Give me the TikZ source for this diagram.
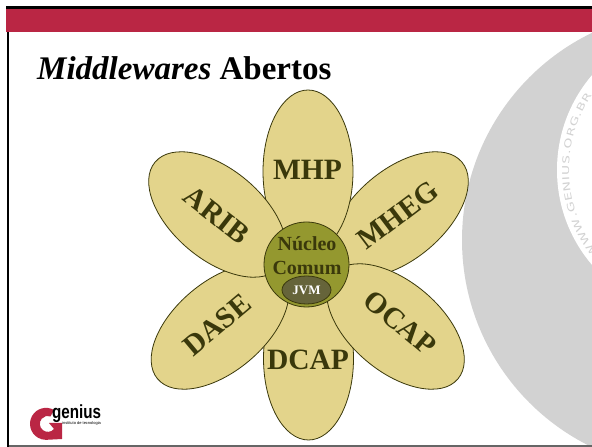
\documentclass[tikz,border=0pt]{standalone}
\usepackage{xcolor}
\usepackage{fontspec}
\setmainfont{Liberation Serif}
\newfontfamily\logofont{Liberation Sans}
\newfontfamily\urlfont[FakeStretch=1.45]{DejaVu Sans}
\usepackage{tikz}
\usetikzlibrary{decorations.text,
                shapes.geometric}
\definecolor{barred}{HTML}{BA2644}
\definecolor{petalfill}{HTML}{E3D48B}
\definecolor{coreolive}{HTML}{94982F}
\definecolor{jvmolive}{HTML}{66643A}
\definecolor{inkolive}{HTML}{3A380B}
\definecolor{discgray}{HTML}{D2D2D2}
\tikzset{
  petal/.style={draw=inkolive, fill=petalfill, ellipse, line width=0.8pt,
    minimum width=163pt, minimum height=90pt, inner sep=0pt},
  petallabel/.style={inner sep=0pt, text=inkolive, font=\bfseries\fontsize{29.5}{29.5}\selectfont},
  logotext/.style={inner sep=0pt, anchor=base west, text=black}
}
\begin{document}
\begin{tikzpicture}[x=1pt,y=1pt]
\useasboundingbox (0,0) rectangle (592,447);
\fill[white] (0,0) rectangle (592,447);
% disc on the right
\begin{scope}
\clip (0,0) rectangle (592,447);
\fill[discgray] (692,207) circle (230);
\fill[white] (703,277) circle (146);
\path[decorate, decoration={text along path, text align={fit to path},
    text={|\urlfont\fontsize{9.5}{9.5}\selectfont\color{discgray}|WWW.GENIUS.ORG.BR}}]
  (703,277) ++(219:134) arc (219:146:134);
\end{scope}
% frame and top bar
\fill[barred] (6,415) rectangle (592,438);
\fill[black] (6,438) rectangle (592,441);
\fill[black] (6.5,0) rectangle (9,415);
\fill[black!60] (9,0) rectangle (592,2);
% title
\node[anchor=base west, inner sep=0pt, font=\bfseries\fontsize{33}{33}\selectfont] (title) at (37,367) {\textit{Middlewares} Abertos};
% petals
\node[petal, rotate=40] (mheg) at (399.5,232.5) {};
\node[petal, rotate=90] (mhp) at (308,275.5) {};
\node[petal, rotate=90] (dcap) at (308.5,88.5) {};
\node[petal, rotate=-40] (ocap) at (395.5,120.5) {};
\node[petal, rotate=40] (dase) at (220,120.5) {};
\node[petal, rotate=-40] (arib) at (217.5,232.5) {};
\node[petallabel, rotate=-38] (ariblabel) at (217,232) {ARIB};
\node[petallabel, rotate=37] (mheglabel) at (398,232) {MHEG};
\node[petallabel, rotate=40] (daselabel) at (217,122) {DASE};
\node[petallabel, rotate=-40] (ocaplabel) at (400,124) {OCAP};
\node[petallabel] (mhplabel) at (307.5,277) {MHP};
\node[petallabel] (dcaplabel) at (308,87) {DCAP};
% core
\node[circle, draw=inkolive, fill=coreolive, line width=0.8pt, minimum size=85pt, inner sep=0pt] (nucleo) at (306.5,182.5) {};
\node[font=\bfseries\fontsize{20}{24}\selectfont, text=inkolive, align=center, inner sep=0pt] (nucleolabel) at (307,191.5) {Núcleo\\Comum};
\node[ellipse, draw=inkolive, fill=jvmolive, line width=0.8pt, minimum width=49pt, minimum height=28pt, inner sep=0pt, text=white, font=\bfseries\fontsize{13}{13}\selectfont] (jvm) at (306.5,157) {JVM};
% logo
\fill[barred] (54,37) arc (60:270:16) -- (62,8) -- (62,24) -- (49,24) -- (54,18) arc (-40:-290:8) -- cycle;
\node[logotext, xscale=0.8, transform shape, font=\logofont\bfseries\fontsize{19}{19}\selectfont] (genius) at (52,28) {genius};
\node[logotext, font=\logofont\fontsize{4}{4}\selectfont] (instituto) at (62,22.5) {instituto de tecnologia};
\end{tikzpicture}
\end{document}
